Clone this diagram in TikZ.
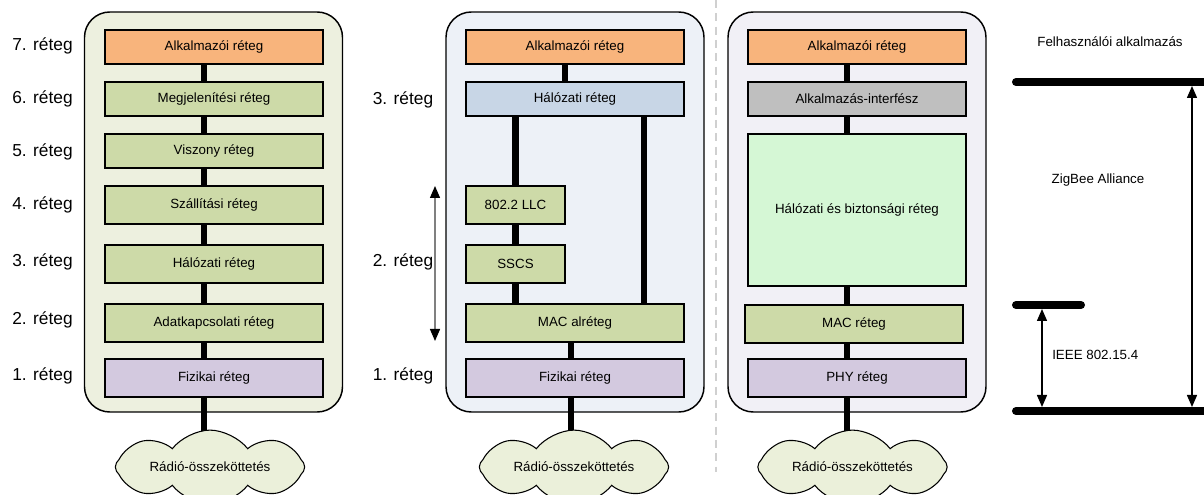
\documentclass[tikz,border=0pt]{standalone}
\usepackage{fontspec}
\setmainfont{Liberation Sans}
\usetikzlibrary{shapes.symbols,arrows.meta}
\pgfdeclarelayer{panels}
\pgfdeclarelayer{bars}
\pgfsetlayers{panels,bars,main}

\definecolor{apporange}{HTML}{F8B47C}
\definecolor{laygreen}{HTML}{CDDAA8}
\definecolor{phypurple}{HTML}{D3C9DF}
\definecolor{netblue}{HTML}{C8D6E6}
\definecolor{apigray}{HTML}{BFBFBF}
\definecolor{nwkgreen}{HTML}{D5F7D5}
\definecolor{osibg}{HTML}{EDF0DF}
\definecolor{ipbg}{HTML}{EDF1F7}
\definecolor{zbbg}{HTML}{F1F0F6}
\definecolor{cloudfill}{HTML}{EBF0DA}
\definecolor{sepgray}{HTML}{D0D0D0}

\tikzset{
  panel/.style={draw=black, line width=1.1pt, rounded corners=19pt,
    minimum width=193.5pt, minimum height=300pt, inner sep=0pt},
  layerbox/.style={draw=black, line width=1pt, inner sep=0pt,
    font=\fontsize{10}{12}\selectfont, minimum width=163.5pt, minimum height=28.5pt},
  thinbox/.style={layerbox, minimum height=25.5pt},
  bar/.style={line width=5pt},
  lvl/.style={font=\fontsize{13}{15}\selectfont, inner sep=0pt},
  note/.style={font=\fontsize{10}{12}\selectfont, inner sep=0pt},
  radio/.style={cloud, cloud puffs=8, cloud puff arc=105, aspect=3.8,
    draw=black, line width=0.8pt, fill=cloudfill, inner sep=0pt,
    minimum width=142pt, minimum height=38pt, font=\fontsize{10}{12}\selectfont},
  rule/.style={line width=6pt, line cap=round},
  span/.style={line width=1.1pt, {Triangle[length=9pt,width=7.5pt]}-{Triangle[length=9pt,width=7.5pt]}},
}

\begin{document}
\begin{tikzpicture}[x=0.75pt, y=-0.75pt]
\useasboundingbox (0,0) rectangle (1204,495);

% ---------- OSI reference model ----------
\begin{pgfonlayer}{panels}
  \node[panel, fill=osibg] (p1) at (213.5,212) {};
  \node[panel, fill=ipbg]  (p2) at (575,212) {};
  \node[panel, fill=zbbg]  (p3) at (857,212) {};
\end{pgfonlayer}

\node[thinbox, fill=apporange] (a7) at (214,47)  {Alkalmazói réteg};
\node[thinbox, fill=laygreen]  (a6) at (214,99)  {Megjelenítési réteg};
\node[thinbox, fill=laygreen]  (a5) at (214,151) {Viszony réteg};
\node[layerbox, fill=laygreen] (a4) at (214,205) {Szállítási réteg};
\node[layerbox, fill=laygreen] (a3) at (214,264) {Hálózati réteg};
\node[layerbox, fill=laygreen] (a2) at (214,323) {Adatkapcsolati réteg};
\node[layerbox, fill=phypurple] (a1) at (214,378) {Fizikai réteg};
\node[radio] (c1) at (210,467) {Rádió-összeköttetés};

\node[lvl] (l7) at (42.5,46)  {7. réteg};
\node[lvl] (l6) at (42.5,99)  {6. réteg};
\node[lvl] (l5) at (42.5,152) {5. réteg};
\node[lvl] (l4) at (42.5,205) {4. réteg};
\node[lvl] (l3) at (42.5,262) {3. réteg};
\node[lvl] (l2) at (42.5,320) {2. réteg};
\node[lvl] (l1) at (42.5,376) {1. réteg};

% ---------- IEEE 802 stack ----------
\node[thinbox, fill=apporange] (b4) at (575,47) {Alkalmazói réteg};
\node[thinbox, fill=netblue]   (b3) at (575,99) {Hálózati réteg};
\node[layerbox, fill=laygreen, minimum width=74.25pt] (llc)  at (515.5,205) {802.2 LLC};
\node[layerbox, fill=laygreen, minimum width=74.25pt] (sscs) at (515.5,264) {SSCS};
\node[layerbox, fill=laygreen] (mac2) at (575,323) {MAC alréteg};
\node[layerbox, fill=phypurple] (b1) at (575,378) {Fizikai réteg};
\node[radio] (c2) at (574,467) {Rádió-összeköttetés};

\node[lvl] (m3) at (403,100) {3. réteg};
\node[lvl] (m2) at (403,262) {2. réteg};
\node[lvl] (m1) at (403,376) {1. réteg};

\coordinate (dlTop) at (435,186);
\coordinate (dlBot) at (435,341);
\draw[span, draw=gray, line width=1pt,
  {Triangle[length=9pt,width=7.5pt,color=black]}-{Triangle[length=9pt,width=7.5pt,color=black]}]
  (dlTop) -- (dlBot);

% separator between the IEEE 802 and ZigBee stacks
\coordinate (sepTop) at (716,0);
\coordinate (sepBot) at (716,472);
\draw[sepgray, line width=0.9pt, dash pattern=on 6pt off 4pt] (sepTop) -- (sepBot);

% ---------- ZigBee stack ----------
\node[thinbox, fill=apporange] (z5) at (857,47) {Alkalmazói réteg};
\node[thinbox, fill=apigray]   (z4) at (857,99) {Alkalmazás-interfész};
\node[layerbox, fill=nwkgreen, minimum height=114pt] (z3) at (857,210) {Hálózati és biztonsági réteg};
\node[layerbox, fill=laygreen] (z2) at (854,324) {MAC réteg};
\node[layerbox, fill=phypurple] (z1) at (857,378) {PHY réteg};
\node[radio] (c3) at (852.5,467) {Rádió-összeköttetés};

% ---------- vertical links ----------
\coordinate (x1) at (204,0);
\coordinate (x2a) at (565,0);
\coordinate (x2b) at (644,0);
\coordinate (x2c) at (571,0);
\coordinate (x3) at (847,0);
\begin{pgfonlayer}{bars}
  \draw[bar] (a7 -| x1) -- (a6 -| x1);
  \draw[bar] (a6 -| x1) -- (a5 -| x1);
  \draw[bar] (a5 -| x1) -- (a4 -| x1);
  \draw[bar] (a4 -| x1) -- (a3 -| x1);
  \draw[bar] (a3 -| x1) -- (a2 -| x1);
  \draw[bar] (a2 -| x1) -- (a1 -| x1);
  \draw[bar] (a1 -| x1) -- (c1 -| x1);

  \draw[bar] (b4 -| x2a) -- (b3 -| x2a);
  \draw[bar] (b3 -| llc) -- (llc);
  \draw[bar] (llc) -- (sscs);
  \draw[bar] (sscs) -- (mac2 -| sscs);
  \draw[bar] (b3 -| x2b) -- (mac2 -| x2b);
  \draw[bar] (mac2 -| x2c) -- (b1 -| x2c);
  \draw[bar] (b1 -| x2c) -- (c2 -| x2c);

  \draw[bar] (z5 -| x3) -- (z4 -| x3);
  \draw[bar] (z4 -| x3) -- (z3 -| x3);
  \draw[bar] (z3 -| x3) -- (z2 -| x3);
  \draw[bar] (z2 -| x3) -- (z1 -| x3);
  \draw[bar] (z1 -| x3) -- (c3 -| x3);
\end{pgfonlayer}

% ---------- scope of the standards ----------
\node[note] (user) at (1110,42) {Felhasználói alkalmazás};
\node[note] (zba)  at (1098,180) {ZigBee Alliance};
\node[note, anchor=west] (ieee) at (1052,355) {IEEE 802.15.4};

\coordinate (r1a) at (1016,82);  \coordinate (r1b) at (1210,82);
\coordinate (r2a) at (1016,305); \coordinate (r2b) at (1081,305);
\coordinate (r3a) at (1016,411); \coordinate (r3b) at (1210,411);
\draw[rule] (r1a) -- (r1b);
\draw[rule] (r2a) -- (r2b);
\draw[rule] (r3a) -- (r3b);

\coordinate (ieTop) at (1042,309);
\coordinate (ieBot) at (1042,407);
\coordinate (zbTop) at (1192,86);
\coordinate (zbBot) at (1192,407);
\draw[span] (ieTop) -- (ieBot);
\draw[span] (zbTop) -- (zbBot);
\end{tikzpicture}
\end{document}
